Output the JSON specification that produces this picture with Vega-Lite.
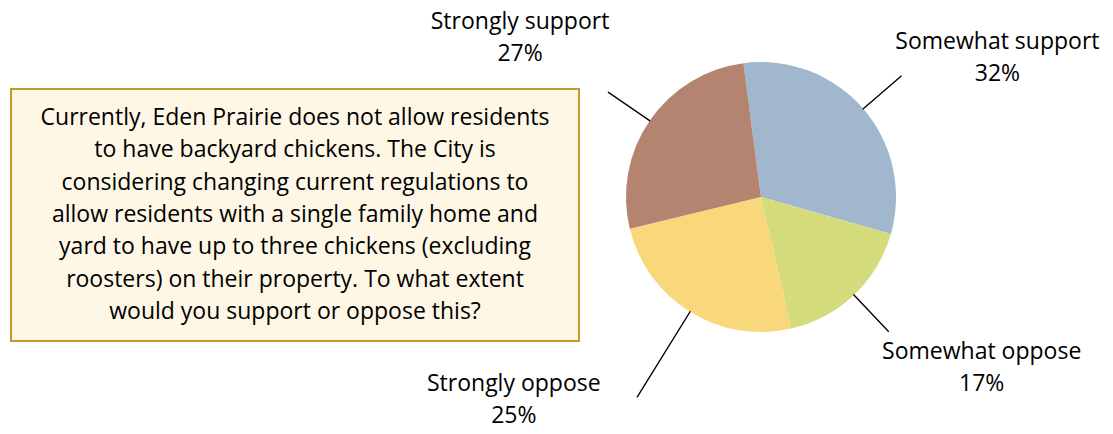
{
  "$schema": "https://vega.github.io/schema/vega-lite/v6.json",
  "autosize": "none",
  "padding": {"left": 11, "top": 89, "right": 1102, "bottom": 345},
  "background": "white",
  "bounds": "flush",
  "spacing": 21,
  "config": {"view": {"stroke": null}, "font": "Open Sans"},
  "hconcat": [
    {
      "width": 568,
      "height": 252,
      "view": {"fill": "#fef7e6", "stroke": "#c49a2c", "strokeWidth": 2},
      "data": {"values": [{"question": "Currently, Eden Prairie does not allow residents\nto have backyard chickens. The City is\nconsidering changing current regulations to\nallow residents with a single family home and\nyard to have up to three chickens (excluding\nroosters) on their property. To what extent\nwould you support or oppose this?"}]},
      "mark": {"type": "text", "lineBreak": "\n", "fontSize": 23, "lineHeight": 32.3, "font": "Open Sans", "color": "#000000", "align": "center", "baseline": "middle", "dy": -97},
      "encoding": {"text": {"field": "question", "type": "nominal"}}
    },
    {
      "width": 322,
      "height": 216,
      "data": {"values": [
        {"category": "Somewhat support", "value": 31.5, "ord": 1},
        {"category": "Somewhat oppose", "value": 17.0, "ord": 2},
        {"category": "Strongly oppose", "value": 24.8, "ord": 3},
        {"category": "Strongly support", "value": 26.7, "ord": 4}
      ]},
      "transform": [
        {"calculate": "datum.category + '\\n' + format(datum.value, '.0f') + '%'", "as": "label"},
        {"window": [{"op": "sum", "field": "value", "as": "cum"}], "sort": [{"field": "ord"}], "frame": [null, 0]},
        {"joinaggregate": [{"op": "sum", "field": "value", "as": "total"}]},
        {"calculate": "-0.1309 + 2 * PI * (datum.cum - datum.value / 2) / datum.total", "as": "mid"},
        {"calculate": "datum.mid + 0.0002", "as": "mid2"}
      ],
      "resolve": {"scale": {"theta": "independent"}},
      "layer": [
        {
          "mark": {"type": "arc", "radius": 135},
          "encoding": {
            "theta": {"field": "value", "type": "quantitative", "stack": true, "scale": {"range": [-0.1309, 6.1523]}},
            "color": {"field": "category", "type": "nominal", "legend": null,
              "scale": {"domain": ["Somewhat support", "Somewhat oppose", "Strongly oppose", "Strongly support"],
                        "range": ["#a0b7cd", "#d4db7b", "#f9d87c", "#b58471"]}},
            "order": {"field": "ord", "type": "quantitative"}
          }
        },
        {
          "transform": [{"filter": "datum.category !== 'Strongly oppose'"}],
          "mark": {"type": "arc", "fill": null, "stroke": "#000000", "strokeWidth": 1.3},
          "encoding": {
            "theta": {"field": "mid", "type": "quantitative", "scale": null, "stack": null},
            "theta2": {"field": "mid2"},
            "radius": {"value": 185},
            "radius2": {"value": 135}
          }
        },
        {
          "transform": [{"filter": "datum.category === 'Strongly oppose'"}],
          "mark": {"type": "arc", "fill": null, "stroke": "#000000", "strokeWidth": 1.3},
          "encoding": {
            "theta": {"field": "mid", "type": "quantitative", "scale": null, "stack": null},
            "theta2": {"field": "mid2"},
            "radius": {"value": 235},
            "radius2": {"value": 135}
          }
        },
        {
          "transform": [{"filter": "datum.category === 'Somewhat support'"}],
          "mark": {"type": "text", "lineBreak": "\n", "fontSize": 23, "lineHeight": 32, "align": "center", "baseline": "middle", "dx": 85, "dy": -24, "color": "#000000"},
          "encoding": {
            "theta": {"field": "mid", "type": "quantitative", "scale": null, "stack": null},
            "radius": {"value": 200},
            "text": {"field": "label", "type": "nominal"}
          }
        },
        {
          "transform": [{"filter": "datum.category === 'Somewhat oppose'"}],
          "mark": {"type": "text", "lineBreak": "\n", "fontSize": 23, "lineHeight": 32, "align": "center", "baseline": "middle", "dx": 83, "dy": 10, "color": "#000000"},
          "encoding": {
            "theta": {"field": "mid", "type": "quantitative", "scale": null, "stack": null},
            "radius": {"value": 200},
            "text": {"field": "label", "type": "nominal"}
          }
        },
        {
          "transform": [{"filter": "datum.category === 'Strongly oppose'"}],
          "mark": {"type": "text", "lineBreak": "\n", "fontSize": 23, "lineHeight": 32, "align": "center", "baseline": "middle", "dx": -142, "dy": 17, "color": "#000000"},
          "encoding": {
            "theta": {"field": "mid", "type": "quantitative", "scale": null, "stack": null},
            "radius": {"value": 200},
            "text": {"field": "label", "type": "nominal"}
          }
        },
        {
          "transform": [{"filter": "datum.category === 'Strongly support'"}],
          "mark": {"type": "text", "lineBreak": "\n", "fontSize": 23, "lineHeight": 32, "align": "center", "baseline": "middle", "dx": -76, "dy": -62, "color": "#000000"},
          "encoding": {
            "theta": {"field": "mid", "type": "quantitative", "scale": null, "stack": null},
            "radius": {"value": 200},
            "text": {"field": "label", "type": "nominal"}
          }
        }
      ]
    }
  ]
}
